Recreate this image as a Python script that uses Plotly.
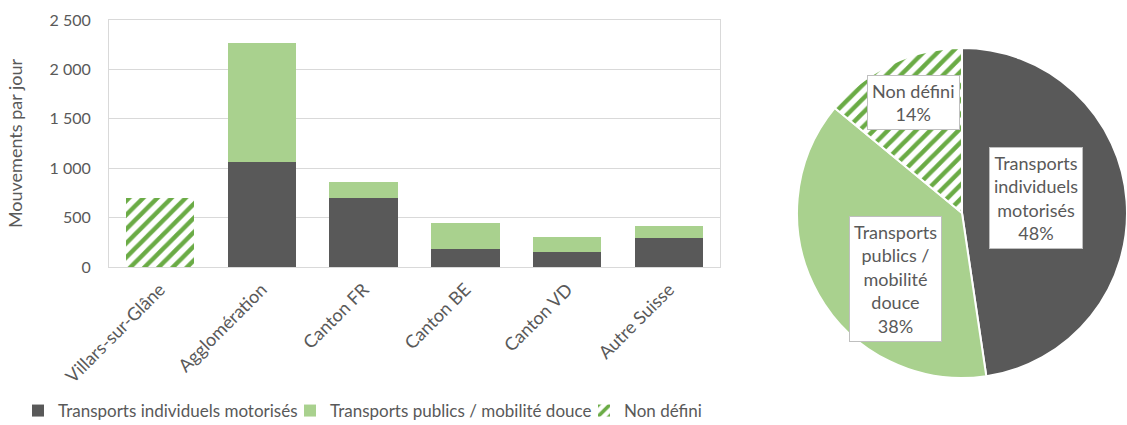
import plotly.graph_objects as go

# ---------------- data ----------------
categories = ["Villars-sur-Glâne", "Agglomération", "Canton FR", "Canton BE", "Canton VD", "Autre Suisse"]
tim = [0, 1060, 700, 180, 150, 290]      # Transports individuels motorisés
tp = [0, 1210, 160, 265, 150, 130]       # Transports publics / mobilité douce
nd = [700, 0, 0, 0, 0, 0]                # Non défini
series_names = ["Transports individuels motorisés", "Transports publics / mobilité douce", "Non défini"]
pie_label_names = ["Transports<br>individuels<br>motorisés", "Transports<br>publics /<br>mobilité<br>douce", "Non défini"]
y_ticks = [0, 500, 1000, 1500, 2000, 2500]

# ---------------- style / layout constants ----------------
W, H = 1127, 425
DARK = "#595959"
GREEN = "#A9D18E"
HATCH = "#6AAB45"
TXT = "#595959"
GRID = "#D9D9D9"
FONT = "Lato"

plot_left, plot_right, plot_top, plot_bottom = 109, 720, 20, 267
pie_cx, pie_cy, pie_r = 962, 213, 165
label_offsets = [(74, -15), (-66, 66), (-48, -110)]  # px from pie centre
legend_text_x = [58, 330, 624]
legend_y = 411

hatch = dict(shape="/", fgcolor=HATCH, bgcolor="white", fgopacity=1, size=10, solidity=0.45)

fig = go.Figure()
fig.add_bar(x=categories, y=tim, name=series_names[0],
            marker=dict(color=DARK, line_width=0), legend="legend")
fig.add_bar(x=categories, y=tp, name=series_names[1],
            marker=dict(color=GREEN, line_width=0), legend="legend2")
fig.add_bar(x=categories, y=nd, name=series_names[2],
            marker=dict(color="white", line_width=0, pattern=hatch), legend="legend3")

totals = [sum(tim), sum(tp), sum(nd)]
grand = sum(totals)
fig.add_pie(values=totals, labels=series_names, sort=False, direction="clockwise",
            rotation=0, textinfo="none", showlegend=False,
            domain=dict(x=[(pie_cx - pie_r) / W, (pie_cx + pie_r) / W],
                        y=[(H - pie_cy - pie_r) / H, (H - pie_cy + pie_r) / H]),
            marker=dict(colors=[DARK, GREEN, "white"], line=dict(color="white", width=2),
                        pattern=dict(shape=["", "", "/"], fgcolor=HATCH, bgcolor="white",
                                     fgopacity=1, size=10, solidity=0.45)))

annotations = []
for name, val, (dx, dy) in zip(pie_label_names, totals, label_offsets):
    annotations.append(dict(
        text=f"{name}<br>{round(100 * val / grand)}%",
        x=(pie_cx + dx) / W, y=(H - (pie_cy + dy)) / H, xref="paper", yref="paper",
        xanchor="center", yanchor="middle",
        showarrow=False, bgcolor="white", bordercolor="#BFBFBF", borderwidth=1, borderpad=4,
        font=dict(family=FONT, size=18, color=TXT), align="center"))

legend_common = dict(orientation="h", yanchor="middle", xanchor="left",
                     y=(H - legend_y) / H, bgcolor="rgba(0,0,0,0)",
                     font=dict(family=FONT, size=17, color=TXT))

fig.update_layout(
    width=W, height=H, margin=dict(l=0, r=0, t=0, b=0, autoexpand=False),
    paper_bgcolor="white", plot_bgcolor="white",
    barmode="stack", bargap=0.33, separators=", ",
    font=dict(family=FONT, size=17, color=TXT),
    xaxis=dict(domain=[plot_left / W, plot_right / W], tickangle=-45,
               showline=True, linecolor=GRID, mirror=True, showgrid=False,
               ticklabelstandoff=4,
               tickfont=dict(size=18, color=TXT), automargin=False),
    yaxis=dict(domain=[(H - plot_bottom) / H, (H - plot_top) / H], range=[0, 2500],
               tickvals=y_ticks, tickformat=",d", showgrid=True, gridcolor=GRID,
               showline=True, linecolor=GRID, mirror=True, zeroline=False,
               ticklabelstandoff=14, tickfont=dict(size=16, color=TXT),
               title=dict(text="Mouvements par jour", font=dict(size=18, color=TXT), standoff=22),
               automargin=False),
    legend=dict(x=(legend_text_x[0] - 40) / W, **legend_common),
    legend2=dict(x=(legend_text_x[1] - 40) / W, **legend_common),
    legend3=dict(x=(legend_text_x[2] - 40) / W, **legend_common),
    annotations=annotations,
)

fig.write_html("out.html", config={"displayModeBar": False},
               post_script="document.body.style.margin='0';")
